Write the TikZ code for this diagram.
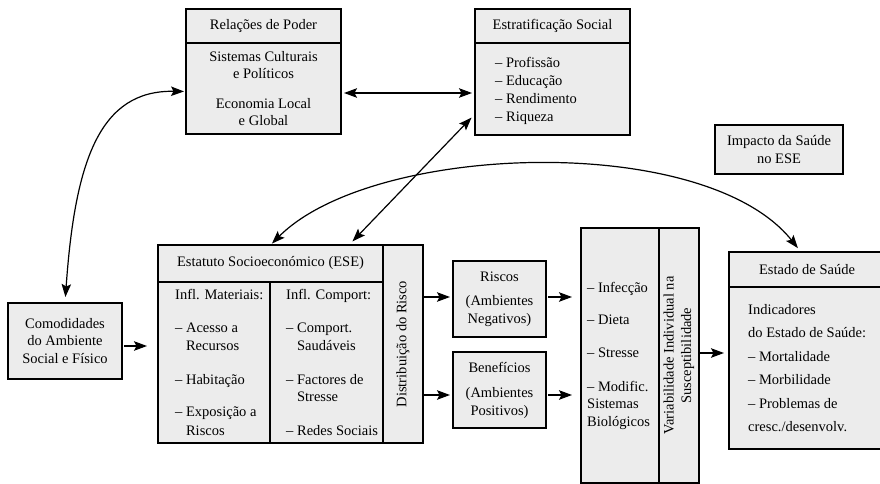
\documentclass[tikz,border=0pt]{standalone}
\usepackage{fontspec}
\setmainfont{Liberation Serif}
\usetikzlibrary{arrows.meta,calc}
\definecolor{boxgray}{RGB}{236,236,236}
\newcommand\fsz{\fontsize{14.5}{17.5}\selectfont}
\begin{document}
\begin{tikzpicture}[x=1pt,y=-1pt,
 box/.style={draw, fill=boxgray, line width=1.2pt, inner sep=0pt, outer sep=0pt, font=\fsz, align=center},
 txt/.style={inner sep=0pt, font=\fsz, align=left},
 tip/.tip={Stealth[length=13pt,width=9.5pt,inset=2.5pt]},
 arr/.style={line width=1.2pt, -tip},
 darr/.style={line width=1.2pt, tip-tip},
]
\useasboundingbox (0,0) rectangle (880,484);

% Relacoes de Poder
\node[box, minimum width=155pt, minimum height=34pt] (relhead) at (263.5,26) {Relações de Poder};
\node[box, minimum width=155pt, minimum height=91pt] (relbody) at (263.5,88.5) {Sistemas Culturais\\e Políticos\\[12pt]Economia Local\\e Global};

% Estratificacao Social
\node[box, minimum width=155pt, minimum height=34pt] (strathead) at (552.5,26) {Estratificação Social};
\node[box, minimum width=155pt, minimum height=92pt] (stratbody) at (552.5,89) {};
\node[txt, anchor=west, font=\fontsize{14.5}{18}\selectfont] (strattxt) at ($(stratbody.west)+(20,2)$) {– Profissão\\– Educação\\– Rendimento\\– Riqueza};

% Impacto
\node[box, minimum width=128pt, minimum height=49pt] (impact) at (779,149.5) {Impacto da Saúde\\no ESE};

% Comodidades
\node[box, minimum width=114pt, minimum height=76pt] (comod) at (65,341) {Comodidades\\do Ambiente\\Social e Físico};

% ESE
\node[box, minimum width=225pt, minimum height=37pt] (esehead) at (270.5,263.5) {Estatuto Socioeconómico (ESE)};
\node[box, minimum width=112pt, minimum height=161pt] (esemat) at (214,362.5) {};
\node[box, minimum width=113pt, minimum height=161pt] (esecomp) at (326.5,362.5) {};
\node[box, minimum width=40pt, minimum height=198pt] (dist) at (403,344) {};
\node[txt, rotate=90, align=center] (disttxt) at (dist.center) {Distribuição do Risco};
\node[txt, anchor=west] (mattxt) at ($(esemat.west)+(17,0)$) {Infl. Materiais:\\[15.5pt]– Acesso a\\\phantom{–\ }Recursos\\[16.5pt]– Habitação\\[14.5pt]– Exposição a\\[1.5pt]\phantom{–\ }Riscos};
\node[txt, anchor=west] (comptxt) at ($(esecomp.west)+(16,0)$) {Infl. Comport:\\[15.5pt]– Comport.\\\phantom{–\ }Saudáveis\\[16.5pt]– Factores de\\\phantom{–\ }Stresse\\[16.5pt]– Redes Sociais};

% Riscos / Beneficios
\node[box, minimum width=93pt, minimum height=76pt] (riscos) at (499.5,299) {Riscos\\[7pt](Ambientes\\Negativos)};
\node[box, minimum width=93pt, minimum height=76pt] (benef) at (499.5,390) {Benefícios\\[8pt](Ambientes\\Positivos)};

% Biological
\node[box, minimum width=78pt, minimum height=255pt] (bio) at (620,355.5) {};
\node[txt, anchor=west] (biotxt) at ($(bio.west)+(6,0)$) {– Infecção\\[14.5pt]– Dieta\\[15.5pt]– Stresse\\[16.5pt]– Modific.\\Sistemas\\Biológicos};
\node[box, minimum width=40pt, minimum height=255pt] (var) at (679,355.5) {};
\node[txt, rotate=90, align=center] (vartxt) at (var.center) {Variabilidade Individual na\\Susceptibilidade};

% Estado de Saude
\node[box, minimum width=156pt, minimum height=35pt] (estadohead) at (807,269.5) {Estado de Saúde};
\node[box, minimum width=156pt, minimum height=162pt] (estadobody) at (807,368) {};
\node[txt, anchor=west, font=\fontsize{14.5}{23.5}\selectfont] (estadotxt) at ($(estadobody.west)+(19,0)$) {Indicadores\\do Estado de Saúde:\\– Mortalidade\\– Morbilidade\\– Problemas de\\cresc./desenvolv.};

% Connectors
\draw[darr, shorten <=3pt, shorten >=3pt] ($(relbody.east)+(0,4.5)$) -- ($(stratbody.west)+(0,4)$);
\draw[darr, shorten <=6pt, shorten >=2pt] (comod.north) .. controls (75,160) and (100,90) .. ($(relbody.west)+(0,3)$);
\draw[darr, shorten <=5pt, shorten >=5pt] ($(esehead.north)+(78.5,0)$) -- ($(stratbody.west)+(0,25)$);
\draw[darr, shorten <=2pt, shorten >=5pt] (esehead.north) .. controls (372.8,142.7) and (704.7,131.6) .. ($(estadohead.north)+(-6,0)$);
\draw[arr, shorten <=2pt, shorten >=11pt] ($(comod.east)+(0,5)$) -- ($(comod.east -| esemat.west)+(0,5)$);
\draw[arr, shorten >=3pt] ($(dist.east |- riscos.west)+(0,-2)$) -- ($(riscos.west)+(0,-2)$);
\draw[arr, shorten >=3pt] ($(dist.east |- benef.west)+(0,5)$) -- ($(benef.west)+(0,5)$);
\draw[arr, shorten <=2pt, shorten >=9pt] ($(riscos.east)+(0,-2)$) -- ($(riscos.east -| bio.west)+(0,-2)$);
\draw[arr, shorten <=2pt, shorten >=9pt] ($(benef.east)+(0,5)$) -- ($(benef.east -| bio.west)+(0,5)$);
\draw[arr, shorten >=5pt] ($(var.east)+(0,-2.5)$) -- ($(var.east -| estadobody.west)+(0,-2.5)$);
\end{tikzpicture}
\end{document}
